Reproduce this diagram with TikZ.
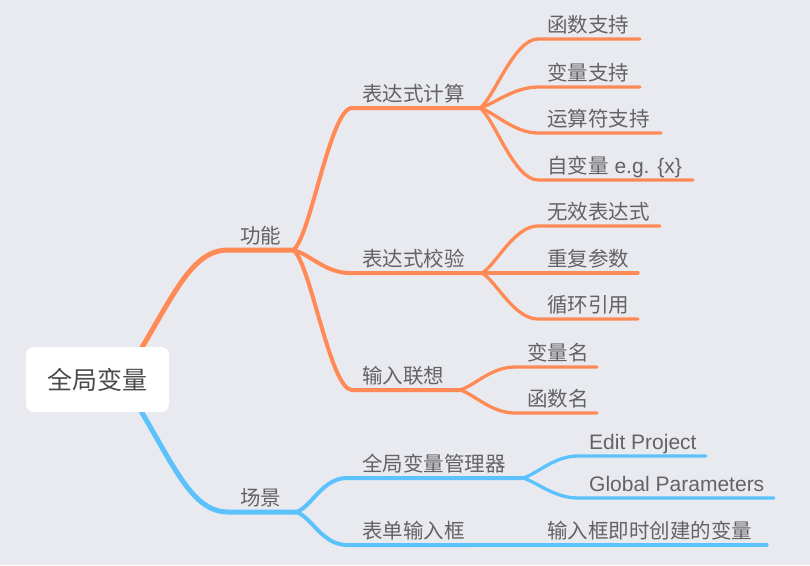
\documentclass[tikz,border=0pt]{standalone}
\usepackage{fontspec}
\setmainfont{Liberation Sans}
\newfontfamily\cjk{Noto Sans CJK SC}
\definecolor{bgc}{HTML}{E9EAF0}
\definecolor{orng}{HTML}{FF8A55}
\definecolor{blu}{HTML}{5BC2FB}
\definecolor{txt}{HTML}{636363}
\definecolor{roottxt}{HTML}{4A4A4A}
\pgfdeclarelayer{bg}
\pgfsetlayers{bg,main}
\begin{document}
\begin{tikzpicture}[x=1pt,y=-1pt,
  lbl/.style={anchor=base west, inner sep=0pt, text=txt, font=\cjk\fontsize{20.5}{24}\selectfont},
  lbllat/.style={anchor=base west, inner sep=0pt, text=txt, font=\fontsize{21}{24}\selectfont},
  rootbox/.style={fill=white, rounded corners=8pt, minimum width=143pt, minimum height=65pt, inner sep=0pt, text=roottxt, font=\cjk\fontsize{25}{28}\selectfont},
  brmain/.style={line width=5pt, line cap=round},
  brsub/.style={line width=4pt, line cap=round},
  brleaf/.style={line width=3.3pt, line cap=round}
]
\useasboundingbox (0,0) rectangle (810,565);

% ---------- coordinates ----------
\coordinate (r0) at (122,380);
\coordinate (o1) at (228,250);   \coordinate (o2) at (293,250);
\coordinate (b1) at (228,512);   \coordinate (b2) at (296,512);
% orange sub branches
\coordinate (e1a) at (352,108);  \coordinate (e1b) at (480,108);
\coordinate (e2a) at (350,273);  \coordinate (e2b) at (482,273);
\coordinate (e3a) at (352,390);  \coordinate (e3b) at (460,390);
% leaves of e1
\coordinate (l1a) at (538,39);   \coordinate (l1b) at (640,39);
\coordinate (l2a) at (538,87);   \coordinate (l2b) at (640,87);
\coordinate (l3a) at (538,133);  \coordinate (l3b) at (661,133);
\coordinate (l4a) at (538,180);  \coordinate (l4b) at (693,180);
% leaves of e2
\coordinate (m1a) at (538,226);  \coordinate (m1b) at (660,226);
\coordinate (m2b) at (638,273);
\coordinate (m3a) at (538,319);  \coordinate (m3b) at (638,319);
% leaves of e3
\coordinate (n1a) at (515,367);  \coordinate (n1b) at (597,367);
\coordinate (n2a) at (515,413);  \coordinate (n2b) at (597,413);
% blue sub branches
\coordinate (g1a) at (347,478);  \coordinate (g1b) at (523,478);
\coordinate (g2a) at (347,545);  \coordinate (g2b) at (475,545);
% leaves of g1
\coordinate (p1a) at (578,456);  \coordinate (p1b) at (706,456);
\coordinate (p2a) at (578,498);  \coordinate (p2b) at (774,498);
\coordinate (q1b) at (767,545);

% ---------- background and connectors ----------
\begin{pgfonlayer}{bg}
\fill[bgc] (0,0) rectangle (810,565);
\draw[brmain, orng] (r0) .. controls +(48.6,-75.6) and +(-40,0) .. (o1) -- (o2);
\draw[brmain, blu]  (r0) .. controls +(48.6,75.6) and +(-40,0) .. (b1) -- (b2);

\draw[brsub, orng] (o2) .. controls +(17,-10) and +(-22,0) .. (e1a) -- (e1b);
\draw[brsub, orng] (o2) .. controls +(17,4) and +(-25,0) .. (e2a) -- (e2b);
\draw[brsub, orng] (o2) .. controls +(17,10) and +(-22,0) .. (e3a) -- (e3b);

\draw[brleaf, orng] (e1b) .. controls +(14,-10) and +(-24,0) .. (l1a) -- (l1b);
\draw[brleaf, orng] (e1b) .. controls +(14,-4) and +(-24,0) .. (l2a) -- (l2b);
\draw[brleaf, orng] (e1b) .. controls +(14,4) and +(-24,0) .. (l3a) -- (l3b);
\draw[brleaf, orng] (e1b) .. controls +(14,10) and +(-24,0) .. (l4a) -- (l4b);

\draw[brleaf, orng] (e2b) .. controls +(14,-8) and +(-24,0) .. (m1a) -- (m1b);
\draw[brleaf, orng] (e2b) -- (m2b);
\draw[brleaf, orng] (e2b) .. controls +(14,8) and +(-24,0) .. (m3a) -- (m3b);

\draw[brleaf, orng] (e3b) .. controls +(14,-4) and +(-24,0) .. (n1a) -- (n1b);
\draw[brleaf, orng] (e3b) .. controls +(14,4) and +(-24,0) .. (n2a) -- (n2b);

\draw[brsub, blu] (b2) .. controls +(15,-4) and +(-25,0) .. (g1a) -- (g1b);
\draw[brsub, blu] (b2) .. controls +(15,4) and +(-25,0) .. (g2a) -- (g2b);

\draw[brleaf, blu] (g1b) .. controls +(14,-4) and +(-24,0) .. (p1a) -- (p1b);
\draw[brleaf, blu] (g1b) .. controls +(14,4) and +(-24,0) .. (p2a) -- (p2b);
\draw[brleaf, blu] (g2b) -- (q1b);
\end{pgfonlayer}

% ---------- nodes ----------
\node[rootbox] (root) at (97.5,379.5) {全局变量};

\node[lbl] (gn) at (240,243) {功能};
\node[lbl] (cj) at (240,505) {场景};

\node[lbl] (e1) at (362,101) {表达式计算};
\node[lbl] (e2) at (362,266) {表达式校验};
\node[lbl] (e3) at (362,383) {输入联想};

\node[lbl] (l1) at (547,32) {函数支持};
\node[lbl] (l2) at (547,80) {变量支持};
\node[lbl] (l3) at (547,126) {运算符支持};
\node[lbllat] (l4) at (547,173) {{\cjk\fontsize{20.5}{24}\selectfont 自变量} e.g. \{x\}};

\node[lbl] (m1) at (547,219) {无效表达式};
\node[lbl] (m2) at (547,266) {重复参数};
\node[lbl] (m3) at (547,312) {循环引用};

\node[lbl] (n1) at (527,360) {变量名};
\node[lbl] (n2) at (527,406) {函数名};

\node[lbl] (g1) at (362,471) {全局变量管理器};
\node[lbl] (g2) at (362,538) {表单输入框};

\node[lbllat] (p1) at (589,449) {Edit Project};
\node[lbllat] (p2) at (589,491) {Global Parameters};
\node[lbl] (q1) at (547,538) {输入框即时创建的变量};
\end{tikzpicture}
\end{document}
